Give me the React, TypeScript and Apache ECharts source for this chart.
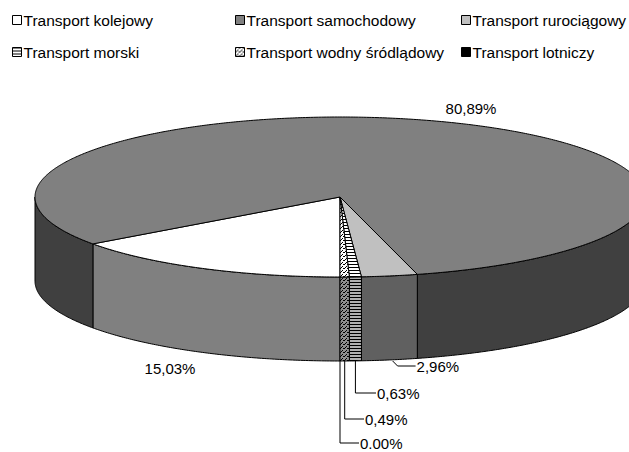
import React, { useEffect, useRef } from "react";
import * as echarts from "echarts";

const categories = [
  "Transport kolejowy",
  "Transport samochodowy",
  "Transport rurociągowy",
  "Transport morski",
  "Transport wodny śródlądowy",
  "Transport lotniczy",
];
const shares = [15.03, 80.89, 2.96, 0.63, 0.49, 0.0];
const labelTexts = ["15,03%", "80,89%", "2,96%", "0,63%", "0,49%", "0.00%"];

// legend columns: each column lists category indices
const legendColumns = [
  [0, 3],
  [1, 4],
  [2, 5],
];

function makeCanvas(w: number, h: number, draw: (ctx: CanvasRenderingContext2D) => void) {
  const c = document.createElement("canvas");
  c.width = w;
  c.height = h;
  const ctx = c.getContext("2d")!;
  draw(ctx);
  return { image: c, repeat: "repeat", imageWidth: w, imageHeight: h } as any;
}

function stripes(bg: string, fg: string) {
  return makeCanvas(4, 3, (ctx) => {
    ctx.fillStyle = bg;
    ctx.fillRect(0, 0, 4, 3);
    ctx.fillStyle = fg;
    ctx.fillRect(0, 0, 4, 1);
  });
}

function dots(bg: string, fg: string) {
  return makeCanvas(4, 4, (ctx) => {
    ctx.fillStyle = bg;
    ctx.fillRect(0, 0, 4, 4);
    ctx.fillStyle = fg;
    ctx.fillRect(0, 0, 1, 1);
    ctx.fillRect(2, 2, 1, 1);
    ctx.fillRect(3, 0, 1, 1);
    ctx.fillRect(1, 3, 1, 1);
  });
}

export default function App() {
  const ref = useRef<HTMLDivElement>(null);

  useEffect(() => {
    if (!ref.current) return;
    const chart = echarts.init(ref.current, null, { renderer: "svg" });

    const topFills: any[] = [
      "#ffffff",
      "#808080",
      "#c0c0c0",
      stripes("#ffffff", "#000000"),
      dots("#ffffff", "#000000"),
      "#000000",
    ];
    const sideFills: any[] = [
      "#808080",
      "#404040",
      "#606060",
      stripes("#b0b0b0", "#000000"),
      dots("#909090", "#000000"),
      "#000000",
    ];

    const cx = 340;
    const cy = 197;
    const rx = 305;
    const ry = 80;
    const depth = 84;
    const start = Math.PI / 2;
    const total = shares.reduce((a, b) => a + b, 0);

    const pt = (t: number, dz = 0) => [cx + rx * Math.cos(t), cy + ry * Math.sin(t) + dz];
    const arc = (a0: number, a1: number, dz = 0) => {
      const pts: number[][] = [];
      const n = Math.max(2, Math.ceil(Math.abs(a1 - a0) / (Math.PI / 360)));
      for (let i = 0; i <= n; i++) pts.push(pt(a0 + ((a1 - a0) * i) / n, dz));
      return pts;
    };

    const font = "15px 'Liberation Sans', Arial, sans-serif";

    const renderItem = (params: any, api: any) => {
      const idx = params.dataIndex;
      const v = api.value(0);
      let before = 0;
      for (let i = 0; i < idx; i++) before += shares[i];
      const a0 = start + (before / total) * Math.PI * 2;
      const a1 = a0 + (v / total) * Math.PI * 2;
      const children: any[] = [];

      if (v > 0) {
        // front side walls (visible where sin > 0)
        for (let k = 0; k < 3; k++) {
          const s = Math.max(a0, k * 2 * Math.PI);
          const e = Math.min(a1, k * 2 * Math.PI + Math.PI);
          if (e > s) {
            const topArc = arc(s, e, 0);
            const botArc = arc(e, s, depth);
            children.push({
              type: "polygon",
              shape: { points: topArc.concat(botArc) },
              style: { fill: sideFills[idx], stroke: "#000", lineWidth: 1 },
            });
          }
        }
        // top
        children.push({
          type: "polygon",
          shape: { points: [[cx, cy]].concat(arc(a0, a1, 0)) },
          style: { fill: topFills[idx], stroke: "#000", lineWidth: 1 },
        });
      }

      // labels
      const mid = (a0 + a1) / 2;
      const txt = labelTexts[idx];
      if (idx === 0) {
        children.push({
          type: "text",
          x: 170,
          y: 368,
          style: { text: txt, font, fill: "#000", align: "center", verticalAlign: "middle" },
        });
      } else if (idx === 1) {
        children.push({
          type: "text",
          x: 471,
          y: 108,
          style: { text: txt, font, fill: "#000", align: "center", verticalAlign: "middle" },
        });
      } else if (idx === 2) {
        const p = pt(mid, depth);
        const ly = 366;
        children.push({
          type: "polyline",
          shape: { points: [[p[0] + 3, p[1] + 1], [p[0] + 8, ly], [p[0] + 26, ly]] },
          style: { stroke: "#000", lineWidth: 1, fill: "none" },
        });
        children.push({
          type: "text",
          x: p[0] + 27,
          y: ly,
          style: { text: txt, font, fill: "#000", align: "left", verticalAlign: "middle" },
        });
      } else {
        const p = pt(mid, depth);
        const ly = idx === 3 ? 393 : idx === 4 ? 419 : 443;
        const lx = idx === 3 ? 376 : idx === 4 ? 364 : 359;
        children.push({
          type: "polyline",
          shape: { points: [[p[0], p[1]], [p[0], ly], [lx, ly]] },
          style: { stroke: "#000", lineWidth: 1, fill: "none" },
        });
        children.push({
          type: "text",
          x: lx + 1,
          y: ly,
          style: { text: txt, font, fill: "#000", align: "left", verticalAlign: "middle" },
        });
      }

      return { type: "group", children };
    };

    const colLefts = [12, 235, 461];
    const legends = legendColumns.map((col, ci) => ({
      orient: "vertical",
      left: colLefts[ci],
      top: 12,
      itemGap: 16,
      itemWidth: 9,
      itemHeight: 9,
      icon: "rect",
      selectedMode: false,
      padding: 0,
      data: col.map((i) => categories[i]),
      itemStyle: { borderColor: "#000", borderWidth: 1 },
      textStyle: {
        fontFamily: "'Liberation Sans', Arial, sans-serif",
        fontSize: 15.5,
        color: "#000",
        padding: [0, 0, 0, -3],
        lineHeight: 16,
      },
    }));

    chart.setOption({
      animation: false,
      backgroundColor: "#ffffff",
      legend: legends,
      series: [
        {
          type: "pie",
          name: "legend",
          radius: [0, 0],
          center: [-200, -200],
          silent: true,
          label: { show: false },
          labelLine: { show: false },
          data: categories.map((name, i) => ({
            name,
            value: shares[i],
            itemStyle: { color: topFills[i] },
          })),
        },
        {
          type: "custom",
          coordinateSystem: "none",
          silent: true,
          renderItem,
          data: shares.map((v) => [v]),
        },
      ],
    });

    return () => chart.dispose();
  }, []);

  return (
    <div
      ref={ref}
      style={{ position: "fixed", left: 0, top: 0, width: 629, height: 452 }}
    />
  );
}
